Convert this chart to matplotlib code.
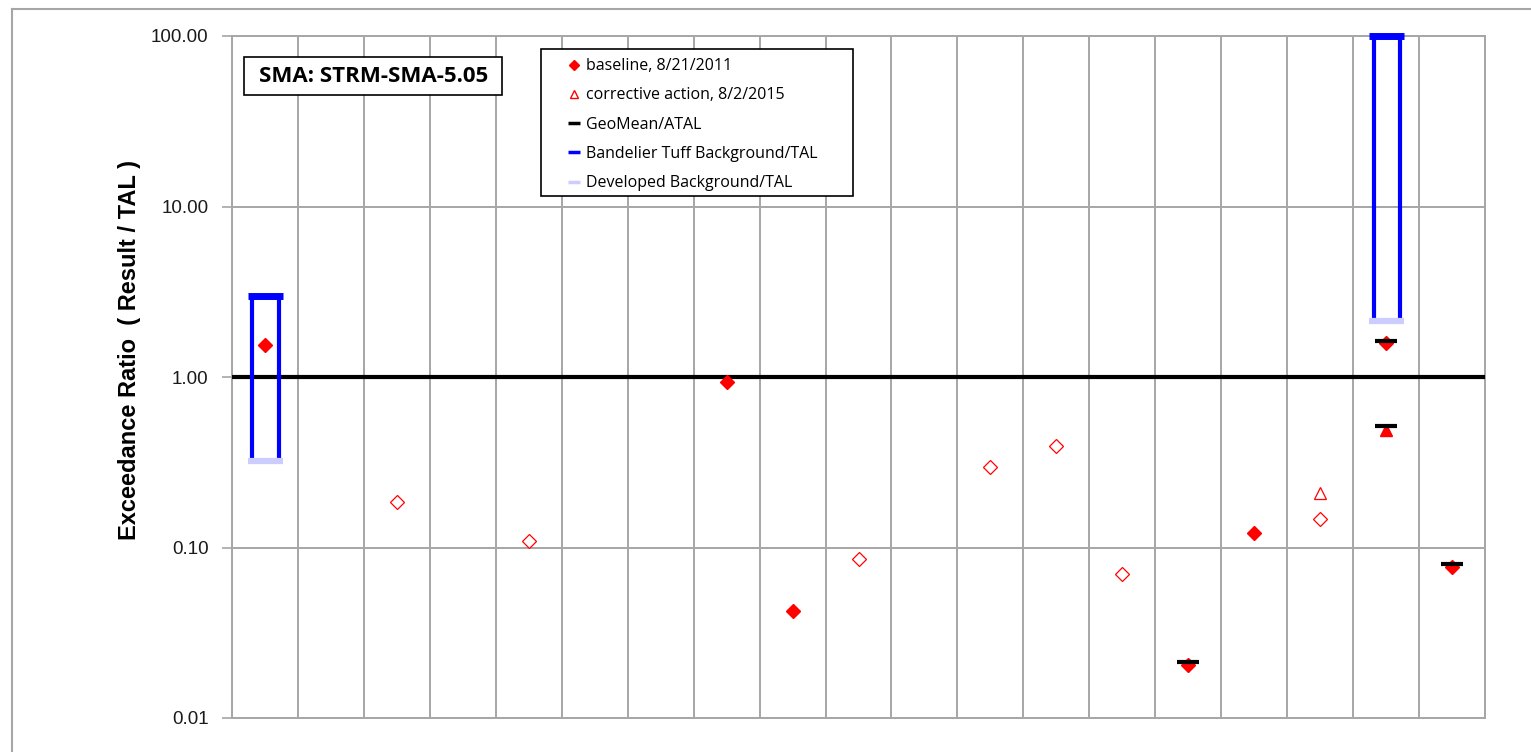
import matplotlib
matplotlib.use("Agg")
import matplotlib.pyplot as plt
from matplotlib.lines import Line2D
from matplotlib.patches import Rectangle
import numpy as np

# ---- data ----
n_cats = 19
# baseline detected (filled diamonds)
base_det_x = [0, 7, 8, 14, 15, 17, 18]
base_det_y = [1.54, 0.935, 0.0425, 0.0205, 0.122, 1.58, 0.077]
# baseline non-detect (open diamonds)
base_nd_x = [2, 4, 9, 11, 12, 13, 16]
base_nd_y = [0.185, 0.109, 0.0857, 0.297, 0.394, 0.070, 0.147]
# corrective action detected (filled triangle)
corr_det_x = [17]
corr_det_y = [0.49]
# corrective action non-detect (open triangle)
corr_nd_x = [16]
corr_nd_y = [0.209]
# GeoMean / ATAL
geo_x = [14, 17, 17, 18]
geo_y = [0.0212, 1.63, 0.516, 0.080]
# background brackets
bg_x = [0, 17]
bandelier = [3.0, 100.0]
developed = [0.32, 2.13]

yticks = [0.01, 0.1, 1, 10, 100]
ytick_labels = ["0.01", "0.10", "1.00", "10.00", "100.00"]

RED = "#FF0000"
BLUE = "#0000FF"
LAV = "#CCCCFF"
GRID = "#A6A6A6"

W, H = 1531, 752
fig = plt.figure(figsize=(W/100, H/100), dpi=100)
ax = fig.add_axes([232/W, 1-718/H, (1485-232)/W, (718-36)/H])
ax.set_yscale("log")
ax.set_ylim(0.01, 100)
ax.set_xlim(-0.5, n_cats - 0.5)

# grid
for b in np.arange(-0.5, n_cats, 1.0):
    ax.axvline(b, color=GRID, lw=1.4, zorder=1)
for t in yticks:
    ax.axhline(t, color=GRID, lw=1.4, zorder=1)
for s in ax.spines.values():
    s.set_color(GRID)
    s.set_linewidth(1.4)

ax.set_xticks([])
ax.set_yticks(yticks)
ax.set_yticklabels(ytick_labels, fontsize=13.5, family="Liberation Sans", color="#1a1a1a")
ax.yaxis.set_minor_locator(matplotlib.ticker.NullLocator())
ax.tick_params(axis="y", length=7, width=1.2, color=GRID, pad=10)
ax.set_ylabel("Exceedance Ratio  ( Result / TAL )", fontsize=17, fontweight="bold",
              family="Liberation Sans")
ax.yaxis.set_label_coords((141-232)/(1485-232), (718-350)/(718-36))

# reference line at 1.0
ax.axhline(1.0, color="black", lw=3, zorder=3)

# background brackets
for x, hi, lo in zip(bg_x, bandelier, developed):
    ax.plot([x - 0.19, x - 0.19], [lo, hi], color=BLUE, lw=3, zorder=4, solid_capstyle="butt", clip_on=False)
    ax.plot([x + 0.21, x + 0.21], [lo, hi], color=BLUE, lw=3, zorder=4, solid_capstyle="butt", clip_on=False)
    ax.plot([x - 0.26, x + 0.27], [hi, hi], color=BLUE, lw=5, zorder=5, solid_capstyle="butt", clip_on=False)
    ax.plot([x - 0.26, x + 0.27], [lo, lo], color=LAV, lw=4.5, zorder=5, solid_capstyle="butt", clip_on=False)

# markers
ax.plot(base_det_x, base_det_y, ls="none", marker="D", ms=7.3, color=RED, mec=RED, zorder=6)
ax.plot(base_nd_x, base_nd_y, ls="none", marker="D", ms=7.5, mfc="white", mec=RED, mew=0.9, zorder=6)
ax.plot(corr_det_x, corr_det_y, ls="none", marker="^", ms=9, color=RED, mec=RED, zorder=6)
ax.plot(corr_nd_x, corr_nd_y, ls="none", marker="^", ms=9, mfc="white", mec=RED, mew=0.9, zorder=6)
ax.plot(geo_x, geo_y, ls="none", marker="_", ms=16, mew=3, color="black", zorder=7)

# title box
fig.add_artist(Rectangle((244/W, 1-95/H), (502-244)/W, (95-57)/H, transform=fig.transFigure,
                         fc="white", ec="black", lw=1.2, zorder=10))
fig.text(374/W, 1-77/H, "SMA: STRM-SMA-5.05", ha="center", va="center",
         fontsize=16, fontweight="bold", family="Open Sans", zorder=11)

# legend box
fig.add_artist(Rectangle((541/W, 1-196/H), (853-541)/W, (196-49)/H, transform=fig.transFigure,
                         fc="white", ec="black", lw=1.2, zorder=10))
handles = [
    Line2D([], [], ls="none", marker="D", ms=5, color=RED),
    Line2D([], [], ls="none", marker="^", ms=6, mfc="white", mec=RED, mew=1),
    Line2D([], [], ls="none", marker="_", ms=9, mew=2.5, color="black"),
    Line2D([], [], ls="none", marker="_", ms=9, mew=2.5, color=BLUE),
    Line2D([], [], ls="none", marker="_", ms=9, mew=2.5, color=LAV),
]
labels = ["baseline, 8/21/2011", "corrective action, 8/2/2015", "GeoMean/ATAL",
          "Bandelier Tuff Background/TAL", "Developed Background/TAL"]
leg = fig.legend(handles, labels, loc="upper left",
                 bbox_to_anchor=(566/W, 1-55/H), frameon=False,
                 prop=dict(family="Open Sans", size=11.5), handlelength=0.6,
                 handletextpad=0.45, labelspacing=0.83, borderpad=0.2,
                 borderaxespad=0)
leg.set_zorder(12)

# outer frame
fig.add_artist(Line2D([12/W, 1.0], [1-8.5/H, 1-8.5/H], transform=fig.transFigure,
                      color=GRID, lw=1.5))
fig.add_artist(Line2D([12/W, 12/W], [0, 1-8.5/H], transform=fig.transFigure,
                      color=GRID, lw=1.5))

fig.savefig("out.png", dpi=100)
